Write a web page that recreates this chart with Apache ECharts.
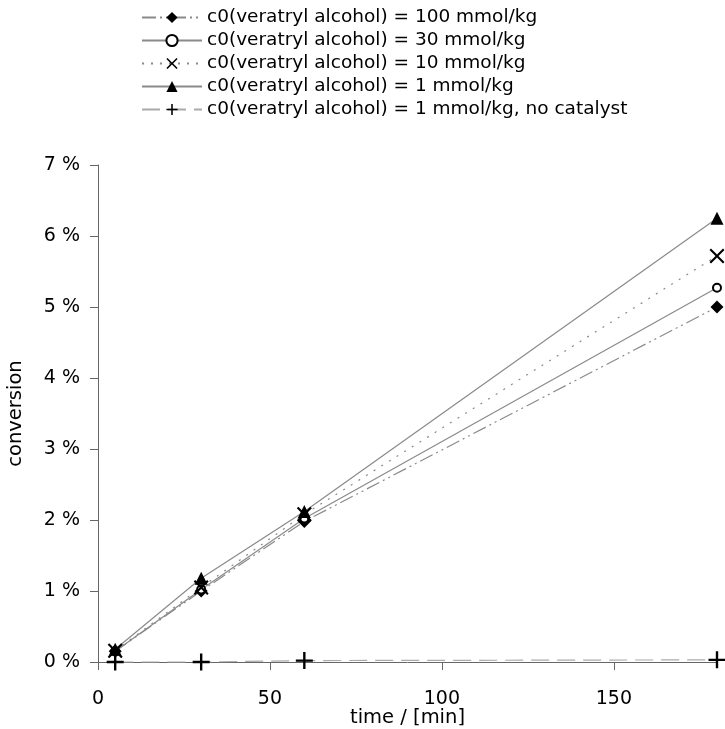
<!DOCTYPE html>
<html>
<head>
<meta charset="utf-8">
<script src="https://cdn.jsdelivr.net/npm/echarts@6/dist/echarts.min.js"></script>
<style>
  html, body { margin: 0; padding: 0; background: #fff; }
</style>
</head>
<body>
<div id="main" style="width: 725px; height: 729px;"></div>
<script>
// data
var times = [5, 30, 60, 180];
var conv100 = [0.15, 1.0, 1.98, 5.0];
var conv30 = [0.15, 1.02, 2.02, 5.27];
var conv10 = [0.16, 1.05, 2.08, 5.72];
var conv1 = [0.18, 1.18, 2.12, 6.25];
var convNoCat = [0.0, 0.0, 0.02, 0.03];
var xTicks = [0, 50, 100, 150];
var yTicks = [0, 1, 2, 3, 4, 5, 6, 7];

var names = [
  "c0(veratryl alcohol) = 100 mmol/kg",
  "c0(veratryl alcohol) = 30 mmol/kg",
  "c0(veratryl alcohol) = 10 mmol/kg",
  "c0(veratryl alcohol) = 1 mmol/kg",
  "c0(veratryl alcohol) = 1 mmol/kg, no catalyst"
];

// cross and plus symbols as filled outlines
var crossPath = "path://M1,0L5,4L9,0L10,1L6,5L10,9L9,10L5,6L1,10L0,9L4,5L0,1Z";
var plusPath = "path://M4.3,0H5.7V4.3H10V5.7H5.7V10H4.3V5.7H0V4.3H4.3Z";

var font = "DejaVu Sans";
var lineGray = "#8a8a8a";

function pairs(vals) {
  return times.map(function (t, i) { return [t, vals[i]]; });
}

function mkSeries(name, vals, symbol, size, lineType, lineColor) {
  return {
    name: name,
    type: "line",
    data: pairs(vals),
    symbol: symbol,
    symbolSize: size,
    clip: false,
    itemStyle: { color: "#000", borderColor: "#000", borderWidth: symbol === "emptyCircle" ? 2 : 0 },
    lineStyle: { color: lineColor || lineGray, width: 1.2, type: lineType },
    emphasis: { disabled: true }
  };
}

var myChart = echarts.init(document.getElementById("main"));
var option = {
  animation: false,
  backgroundColor: "#fff",
  textStyle: { fontFamily: font },
  legend: {
    orient: "vertical",
    left: 136,
    top: 3,
    itemWidth: 60,
    itemHeight: 14,
    itemGap: 4,
    textStyle: { fontFamily: font, fontSize: 18.5, color: "#000", lineHeight: 19 },
    data: names
  },
  grid: { left: 98, right: 8, top: 165, bottom: 67, containLabel: false, outerBoundsMode: "none" },
  xAxis: {
    type: "value",
    min: 0,
    max: 180,
    interval: 50,
    name: "time / [min]",
    nameLocation: "middle",
    nameGap: 46,
    nameMoveOverlap: false,
    nameTextStyle: { fontFamily: font, fontSize: 19.5, color: "#000" },
    axisLine: { lineStyle: { color: "#666", width: 1 } },
    axisTick: { show: true, length: 8, lineStyle: { color: "#666" } },
    axisLabel: {
      fontFamily: font, fontSize: 19, color: "#000", margin: 28,
      showMaxLabel: false,
      formatter: function (v) { return xTicks.indexOf(v) >= 0 ? String(v) : ""; }
    },
    splitLine: { show: false }
  },
  yAxis: {
    type: "value",
    min: 0,
    max: 7,
    interval: 1,
    name: "conversion",
    nameLocation: "middle",
    nameGap: 72,
    nameMoveOverlap: false,
    nameTextStyle: { fontFamily: font, fontSize: 19.5, color: "#000" },
    axisLine: { show: true, lineStyle: { color: "#666", width: 1 } },
    axisTick: { show: true, length: 8, lineStyle: { color: "#666" } },
    axisLabel: {
      fontFamily: font, fontSize: 19, color: "#000", margin: 18,
      formatter: function (v) { return yTicks.indexOf(v) >= 0 ? v + " %" : ""; }
    },
    splitLine: { show: false }
  },
  series: [
    mkSeries(names[0], conv100, "diamond", 13, [14, 4, 2, 4, 2, 4]),
    mkSeries(names[1], conv30, "emptyCircle", 8, "solid"),
    mkSeries(names[2], conv10, crossPath, 15, [2, 7]),
    mkSeries(names[3], conv1, "triangle", 13, "solid"),
    mkSeries(names[4], convNoCat, plusPath, 17, [18, 8], "#aaa")
  ]
};
myChart.setOption(option);
</script>
</body>
</html>
